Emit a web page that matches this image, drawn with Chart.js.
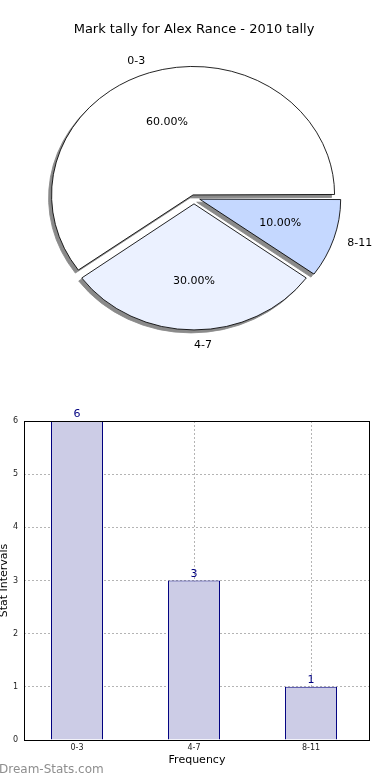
<!DOCTYPE html>
<html>
<head>
<meta charset="utf-8">
<script src="https://cdn.jsdelivr.net/npm/chart.js@4"></script>
<style>
  body { margin: 0; background: #fff; width: 390px; height: 780px; position: relative; overflow: hidden; }
  #pieBox { position: absolute; left: 0; top: 0; width: 390px; height: 390px; }
  #barBox { position: absolute; left: 0; top: 390px; width: 390px; height: 390px; }
  #mark { position: absolute; left: -1px; top: 762px; font: 12px "DejaVu Sans", sans-serif; color: #8e8e8e; }
</style>
</head>
<body>
<div id="pieBox"><canvas id="pie"></canvas></div>
<div id="barBox"><canvas id="bar"></canvas></div>
<div id="mark">Dream-Stats.com</div>
<script>
const categories = ['0-3', '4-7', '8-11'];
const tallies = [6, 3, 1];
const pieColours = ['#ffffff', '#ebf1ff', '#c5d8ff'];
const explode = [12, 28, 24];
const yTicks = [0, 1, 2, 3, 4, 5, 6];

const FONT = '"DejaVu Sans", sans-serif';
const SY = 128 / 141; // matplotlib pie is squashed vertically

const total = tallies.reduce((a, b) => a + b, 0);

// pie goes clockwise in chart.js, so feed it reversed to get matplotlib's ccw order
const pieLabels = categories.slice().reverse();
const pieData = tallies.slice().reverse();

const squash = {
    id: 'squash',
    beforeDatasetsDraw(chart) {
        const ctx = chart.ctx;
        const arcs = chart.getDatasetMeta(0).data;
        const cy = arcs[0].y;
        ctx.save();
        ctx.translate(0, cy);
        ctx.scale(1, SY);
        ctx.translate(0, -cy);
        // shadow pass: grey copies of every slice, shifted down-left
        ctx.save();
        ctx.translate(-3, 3 / SY);
        arcs.forEach(arc => {
            const o = arc.options;
            arc.options = Object.assign({}, o, { backgroundColor: '#8a8a8a', borderColor: '#8a8a8a' });
            arc.draw(ctx);
            arc.options = o;
        });
        ctx.restore();
    },
    afterDatasetsDraw(chart) {
        const ctx = chart.ctx;
        ctx.restore();
        const arcs = chart.getDatasetMeta(0).data;
        ctx.save();
        ctx.font = '11px ' + FONT;
        ctx.fillStyle = '#000';
        ctx.textBaseline = 'middle';
        arcs.forEach((arc, i) => {
            const h = (arc.startAngle + arc.endAngle) / 2;
            const off = (arc.options.offset || 0) / 4;
            const r = 141;
            const c = Math.cos(h), s = Math.sin(h);
            const x0 = arc.x + c * off;
            const y0 = arc.y + s * off * SY;
            // category label
            ctx.textAlign = c >= 0 ? 'left' : 'right';
            ctx.fillText(pieLabels[i], x0 + 1.1 * r * c, y0 + 1.1 * r * s * SY);
            // percentage
            ctx.textAlign = 'center';
            const pct = (pieData[i] / total * 100).toFixed(2) + '%';
            ctx.fillText(pct, x0 + 0.6 * r * c, y0 + 0.6 * r * s * SY);
        });
        ctx.restore();
    }
};

new Chart(document.getElementById('pie'), {
    type: 'pie',
    data: {
        labels: pieLabels,
        datasets: [{
            data: pieData,
            backgroundColor: pieColours.slice().reverse(),
            borderColor: '#000',
            borderWidth: 0.9,
            offset: explode.slice().reverse()
        }]
    },
    options: {
        responsive: true,
        maintainAspectRatio: false,
        animation: false,
        rotation: 90,
        radius: 138.5,
        layout: { padding: { left: 0, right: 2, top: 0, bottom: 32.6 } },
        plugins: {
            legend: { display: false },
            tooltip: { enabled: false },
            title: {
                display: true,
                text: 'Mark tally for Alex Rance - 2010 tally',
                color: '#000',
                font: { family: FONT, size: 13, weight: 'normal' },
                padding: { top: 22, bottom: 0 }
            }
        }
    },
    plugins: [squash]
});

// bar chart
const barLabels = {
    id: 'barLabels',
    afterDatasetsDraw(chart) {
        const ctx = chart.ctx;
        const meta = chart.getDatasetMeta(0);
        ctx.save();
        ctx.font = '11px ' + FONT;
        ctx.fillStyle = '#000080';
        ctx.textAlign = 'center';
        ctx.textBaseline = 'bottom';
        meta.data.forEach((bar, i) => {
            ctx.fillText(String(tallies[i]), bar.x, bar.y - 1);
        });
        ctx.restore();
    },
    afterDraw(chart) {
        const a = chart.chartArea;
        const ctx = chart.ctx;
        ctx.save();
        ctx.strokeStyle = '#000';
        ctx.lineWidth = 1;
        ctx.strokeRect(a.left + 0.5, a.top + 0.5, a.right - a.left - 1, a.bottom - a.top);
        ctx.restore();
    }
};

const gridStyle = {
    color: '#b4b4b4',
    lineWidth: 1,
    drawTicks: false,
    offset: false
};

new Chart(document.getElementById('bar'), {
    type: 'bar',
    data: {
        datasets: [{
            data: categories.map((c, i) => ({ x: i, y: tallies[i] })),
            backgroundColor: '#ccccE6',
            borderColor: '#000080',
            borderWidth: 1,
            categoryPercentage: 1,
            barPercentage: 0.4444
        }]
    },
    options: {
        responsive: true,
        maintainAspectRatio: false,
        animation: false,
        layout: { padding: { left: 0, right: 20, top: 31, bottom: 0 } },
        plugins: {
            legend: { display: false },
            tooltip: { enabled: false }
        },
        scales: {
            x: {
                type: 'linear',
                offset: false,
                min: -0.453,
                max: 2.504,
                afterBuildTicks(scale) {
                    scale.ticks = categories.map((c, i) => ({ value: i }));
                },
                afterFit(scale) { scale.height = 40; },
                grid: gridStyle,
                border: { display: false, dash: [2, 2] },
                ticks: {
                    color: '#222',
                    font: { family: FONT, size: 8 },
                    padding: 3,
                    callback: (v) => categories[v]
                },
                title: {
                    display: true,
                    text: 'Frequency',
                    color: '#000',
                    font: { family: FONT, size: 11 },
                    padding: { top: 0, bottom: 13 }
                }
            },
            y: {
                min: 0,
                max: 6,
                afterBuildTicks(scale) {
                    scale.ticks = yTicks.map(v => ({ value: v }));
                },
                afterFit(scale) { scale.width = 24; },
                grid: gridStyle,
                border: { display: false, dash: [2, 2] },
                ticks: {
                    color: '#222',
                    font: { family: FONT, size: 8 },
                    padding: 6
                },
                title: {
                    display: true,
                    text: 'Stat Intervals',
                    color: '#000',
                    font: { family: FONT, size: 11 },
                    padding: { top: -2, bottom: 0 }
                }
            }
        }
    },
    plugins: [barLabels]
});
</script>
</body>
</html>
